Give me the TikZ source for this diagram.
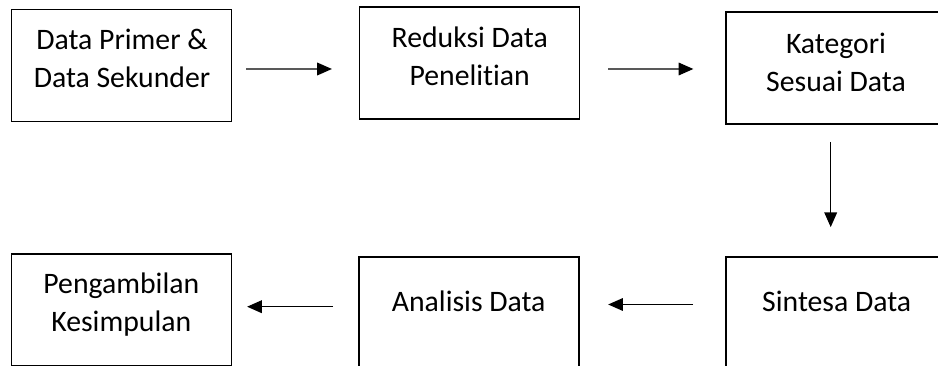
\documentclass[tikz,border=0pt]{standalone}
\usepackage{fontspec}
\setmainfont[Ligatures=NoCommon]{Carlito}
\usetikzlibrary{calc,arrows.meta}
\begin{document}
\begin{tikzpicture}[x=0.75pt,y=-0.75pt,
  box/.style={draw,line width=1.4pt,minimum width=165pt,minimum height=84pt,inner sep=0pt},
  lbl/.style={anchor=base,inner sep=0pt,align=center,font=\fontsize{22.3}{28.5}\selectfont},
  arr/.style={line width=0.9pt,-{Triangle[length=11pt,width=9.5pt]}}]
\useasboundingbox (0,0) rectangle (938,366);
\clip (0,0) rectangle (938,366);
\node[box] (b1) at (121.5,65.5) {};
\node[box] (b2) at (469.5,63.2) {};
\node[box] (b3) at (836,68) {};
\node[box] (b4) at (121.5,310.3) {};
\node[box] (b5) at (469,312.7) {};
\node[box] (b6) at (836,312.7) {};
\node[lbl] (t1) at (122,87.3) {Data Primer \&\\Data Sekunder};
\node[lbl] (t2) at (469.7,86) {Reduksi Data\\Penelitian};
\node[lbl] (t3) at (836,91.7) {Kategori\\Sesuai Data};
\node[lbl] (t4) at (121.3,331.7) {Pengambilan\\Kesimpulan};
\node[lbl] (t5) at (468.7,311.7) {Analisis Data};
\node[lbl] (t6) at (836.7,311.7) {Sintesa Data};
\draw[arr,shorten <=10.3pt,shorten >=20pt] ($(b1.east)+(0,3.5)$) -- ($(b2.west)+(0,5.8)$);
\draw[arr,shorten <=20.7pt,shorten >=23.8pt] ($(b2.east)+(0,5.8)$) -- ($(b3.west)+(0,1)$);
\draw[arr,shorten <=12.75pt,shorten >=21.5pt] ($(b3.south)+(-5.3,0)$) -- ($(b6.north)+(-5.3,0)$);
\draw[arr,shorten <=24pt,shorten >=21.2pt] ($(b6.west)+(0,-8.2)$) -- ($(b5.east)+(0,-8.2)$);
\draw[arr,shorten <=18.75pt,shorten >=11pt] ($(b5.west)+(0,-6)$) -- ($(b4.east)+(0,-3.6)$);
\end{tikzpicture}
\end{document}
